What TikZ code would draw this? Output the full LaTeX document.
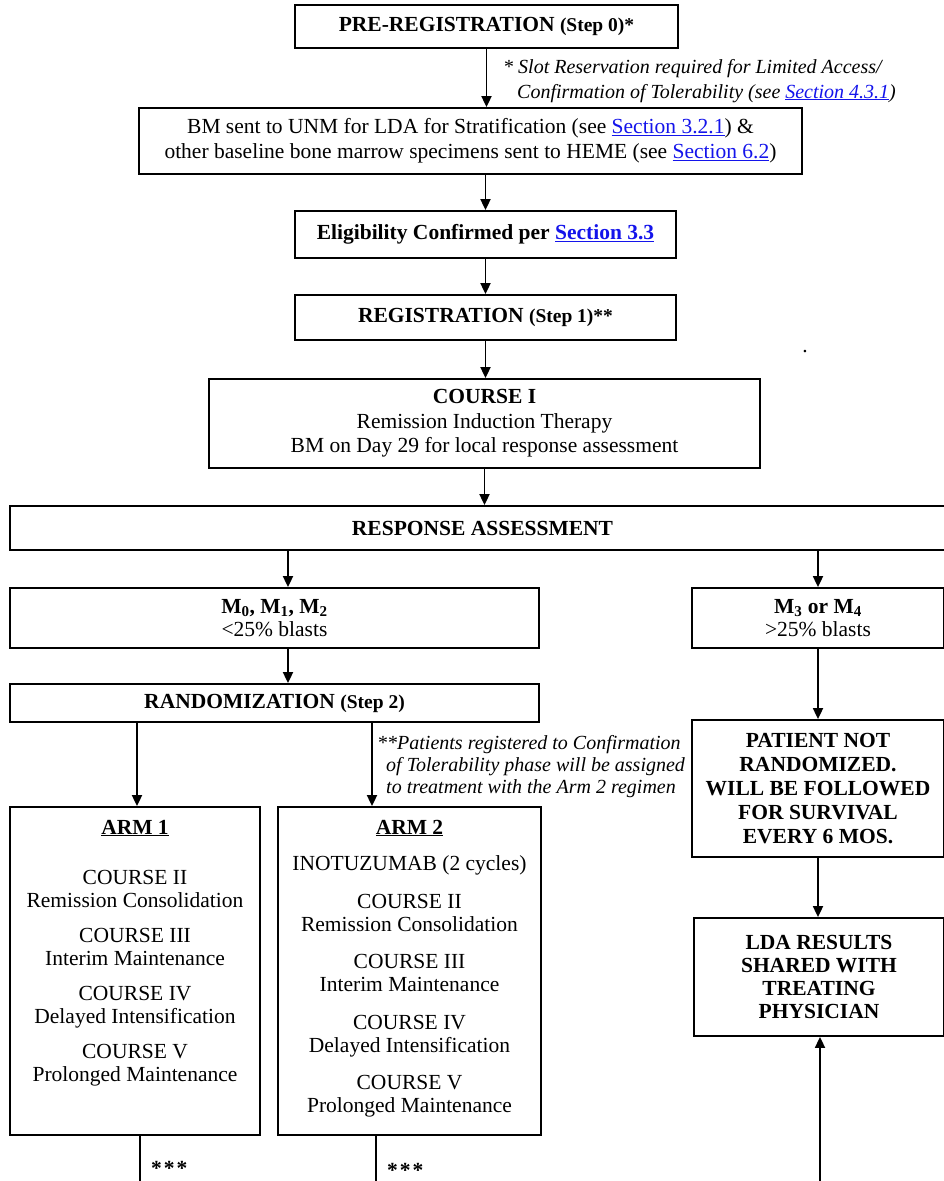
\documentclass[tikz,border=0pt]{standalone}
\usepackage{fontspec}
\setmainfont{Liberation Serif}
\usetikzlibrary{arrows.meta,calc}
\definecolor{linkblue}{RGB}{20,20,235}
\newcommand{\lnk}[1]{\textcolor{linkblue}{\underline{#1}}}
\newcommand{\stepfs}{\fontsize{19.5}{24}\selectfont}
\begin{document}
\begin{tikzpicture}[x=1pt,y=-1pt,
  box/.style={draw, line width=1.8pt, inner sep=0pt, align=center, font=\fontsize{21.5}{24}\selectfont},
  txt/.style={inner sep=0pt, font=\fontsize{21.5}{24}\selectfont, anchor=base},
  note/.style={inner sep=0pt, font=\fontsize{20}{24}\selectfont\itshape, anchor=base west},
  arr/.style={line width=1.8pt, -{Triangle[length=11pt,width=10pt]}},
  ln/.style={line width=1.8pt}]
\fill[white] (0,0) rectangle (943,1181);
\useasboundingbox (0,0) rectangle (943,1181);

% boxes
\node[box, minimum width=383pt, minimum height=43pt] (pre) at (486.5,26.5) {\textbf{PRE-REGISTRATION {\stepfs(Step 0)*}}};
\node[box, minimum width=663pt, minimum height=66pt, font=\fontsize{21.5}{25}\selectfont] (bm) at (470.5,141)
  {BM sent to UNM for LDA for Stratification (see \lnk{Section 3.2.1}) \&\\other baseline bone marrow specimens sent to HEME (see \lnk{Section 6.2})};
\node[box, minimum width=381pt, minimum height=47pt] (elig) at (485.5,234.5) {\textbf{Eligibility Confirmed per \lnk{Section 3.3}}};
\node[box, minimum width=381pt, minimum height=45pt] (reg) at (485.5,317.5) {\textbf{REGISTRATION {\stepfs(Step 1)**}}};
\node[box, minimum width=551pt, minimum height=89pt, font=\fontsize{21.5}{24.5}\selectfont] (c1) at (484.5,423.5)
  {\textbf{COURSE I}\\Remission Induction Therapy\\BM on Day 29 for local response assessment};
\node[box, minimum width=945pt, minimum height=44pt] (resp) at (482.5,528) {\textbf{RESPONSE ASSESSMENT}};
\node[box, minimum width=529pt, minimum height=60pt, font=\fontsize{21.5}{22.5}\selectfont] (m0) at (274.5,618)
  {\textbf{M\textsubscript{0}, M\textsubscript{1}, M\textsubscript{2}}\\<25\% blasts};
\node[box, minimum width=252pt, minimum height=60pt, font=\fontsize{21.5}{22.5}\selectfont] (m3) at (818,618)
  {\textbf{M\textsubscript{3} or M\textsubscript{4}}\\>25\% blasts};
\node[box, minimum width=529pt, minimum height=38pt] (rand) at (274.5,703) {\textbf{RANDOMIZATION {\stepfs(Step 2)}}};
\node[box, minimum width=252pt, minimum height=137pt, font=\fontsize{21.5}{23.8}\selectfont\bfseries] (pat) at (818,788.5)
  {PATIENT NOT\\RANDOMIZED.\\WILL BE FOLLOWED\\FOR SURVIVAL\\EVERY 6 MOS.};
\node[box, minimum width=250pt, minimum height=118pt, font=\fontsize{21.5}{23}\selectfont\bfseries] (lda) at (819,977)
  {LDA RESULTS\\SHARED WITH\\TREATING\\PHYSICIAN};
\node[box, minimum width=250pt, minimum height=328pt] (arm1) at (135,971) {};
\node[box, minimum width=263pt, minimum height=328pt] (arm2) at (409.5,971) {};

% arm 1 text
\node[txt] (a1t) at (135,834) {\textbf{\underline{ARM 1}}};
\node[txt] (a1a) at (135,884) {COURSE II};
\node[txt] (a1b) at (135,907) {Remission Consolidation};
\node[txt] (a1c) at (135,942) {COURSE III};
\node[txt] (a1d) at (135,965) {Interim Maintenance};
\node[txt] (a1e) at (135,1000) {COURSE IV};
\node[txt] (a1f) at (135,1023) {Delayed Intensification};
\node[txt] (a1g) at (135,1058) {COURSE V};
\node[txt] (a1h) at (135,1081) {Prolonged Maintenance};

% arm 2 text
\node[txt] (a2t) at (409.5,834) {\textbf{\underline{ARM 2}}};
\node[txt] (a2i) at (409.5,870) {INOTUZUMAB (2 cycles)};
\node[txt] (a2a) at (409.5,908) {COURSE II};
\node[txt] (a2b) at (409.5,931) {Remission Consolidation};
\node[txt] (a2c) at (409.5,968.5) {COURSE III};
\node[txt] (a2d) at (409.5,991.5) {Interim Maintenance};
\node[txt] (a2e) at (409.5,1029) {COURSE IV};
\node[txt] (a2f) at (409.5,1052) {Delayed Intensification};
\node[txt] (a2g) at (409.5,1089.5) {COURSE V};
\node[txt] (a2h) at (409.5,1112.5) {Prolonged Maintenance};

% notes
\node[note] (n1a) at (503,73) {* Slot Reservation required for Limited Access/};
\node[note] (n1b) at (517,98) {Confirmation of Tolerability (see \lnk{Section 4.3.1})};
\node[note] (n2a) at (377,749) {**Patients registered to Confirmation};
\node[note] (n2b) at (386,771) {of Tolerability phase will be assigned};
\node[note] (n2c) at (386,793) {to treatment with the Arm 2 regimen};
\node[txt, anchor=base west, font=\fontsize{21.5}{24}\selectfont\bfseries] (st1) at (151,1175) {*\kern2pt*\kern2pt*};
\node[txt, anchor=base west, font=\fontsize{21.5}{24}\selectfont\bfseries] (st2) at (387,1177) {*\kern2pt*\kern2pt*};
\node[txt] (dot) at (805,352) {.};

% coordinates for off-centre connectors
\coordinate (xa) at (288,0);
\coordinate (xb) at (137,0);
\coordinate (xc) at (372,0);
\coordinate (b1) at (140,1190);
\coordinate (b2) at (376,1190);
\coordinate (b3) at (820,1190);

% connectors
\draw[arr] (pre.south) -- (pre.south |- bm.north);
\draw[arr] (elig.north |- bm.south) -- (elig.north);
\draw[arr] (elig.south) -- (reg.north);
\draw[arr] (reg.south) -- (reg.south |- c1.north);
\draw[arr] (c1.south) -- (c1.south |- resp.north);
\draw[arr] (resp.south -| xa) -- (m0.north -| xa);
\draw[arr] (resp.south -| m3.north) -- (m3.north);
\draw[arr] (m0.south -| xa) -- (rand.north -| xa);
\draw[arr] (m3.south) -- (pat.north);
\draw[arr] (pat.south) -- (pat.south |- lda.north);
\draw[arr] (rand.south -| xb) -- (arm1.north -| xb);
\draw[arr] (rand.south -| xc) -- (arm2.north -| xc);
\draw[ln] (arm1.south -| b1) -- (b1);
\draw[ln] (arm2.south -| b2) -- (b2);
\draw[arr] (b3) -- (lda.south -| b3);
\end{tikzpicture}
\end{document}
